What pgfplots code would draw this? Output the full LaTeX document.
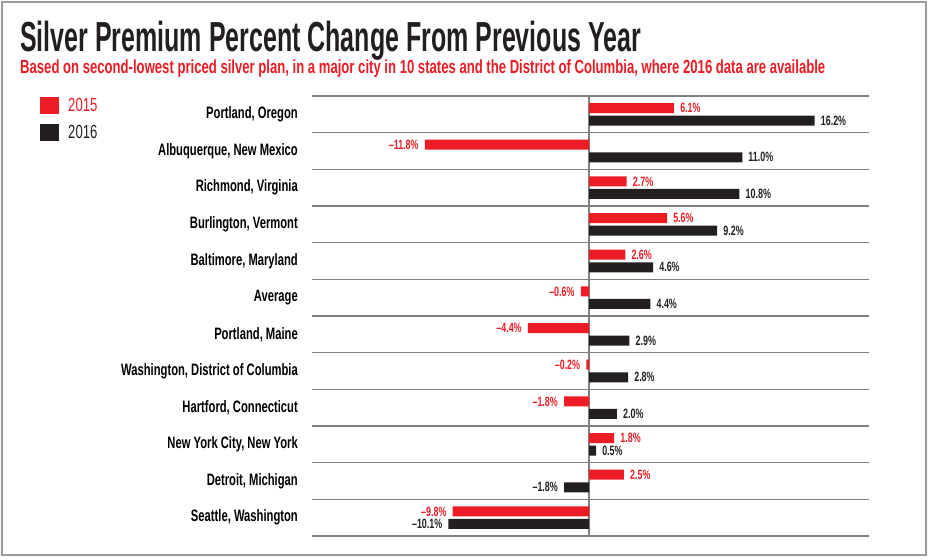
\documentclass[border=0pt]{standalone}
\usepackage{pgfplots}
\pgfplotsset{compat=1.18}
\usepackage{pgfplotstable}
\usepackage{fontspec}
\setmainfont{Liberation Sans}
\newfontfamily\condtitle[FakeStretch=0.595]{Liberation Sans}
\newfontfamily\condsub[FakeStretch=0.69]{Liberation Sans}
\newfontfamily\condlab[FakeStretch=0.68]{Liberation Sans}
\newfontfamily\condval[FakeStretch=0.66]{Liberation Sans}
\definecolor{sred}{HTML}{ED1C24}
\definecolor{sblack}{HTML}{231F20}
\definecolor{sgray}{HTML}{808080}

% y: 11 = top row (Portland, Oregon), 0 = bottom row
\pgfplotstableread{
y   a     b
11  6.1   16.2
10  -11.8 11.0
9   2.7   10.8
8   5.6   9.2
7   2.6   4.6
6   -0.6  4.4
5   -4.4  2.9
4   -0.2  2.8
3   -1.8  2.0
2   1.8   0.5
1   2.5   -1.8
0   -9.8  -10.1
}\premium

\newcommand\lbl[1]{\ifdim#1pt<0pt \textendash\pgfmathparse{abs(#1)}\else\pgfmathparse{#1}\fi
  \pgfmathprintnumber[fixed,fixed zerofill,precision=1,assume math mode=true]{\pgfmathresult}\%}

\begin{document}
\begin{tikzpicture}
\begin{axis}[
  at={(312pt,22pt)}, anchor=south west,
  scale only axis, width=557pt, height=440pt,
  xmin=-19.9, xmax=20.1, ymin=-0.5, ymax=11.5,
  xbar, bar width=10pt,
  axis line style={draw=none},
  xtick=\empty,
  extra x ticks={0}, extra x tick labels={},
  extra x tick style={grid=major, major grid style={sgray, line width=1.4pt}},
  ytick={0,...,11},
  yticklabels={{Seattle, Washington},{Detroit, Michigan},{New York City, New York},
    {Hartford, Connecticut},{Washington, District of Columbia},{Portland, Maine},
    {Average},{Baltimore, Maryland},{Burlington, Vermont},{Richmond, Virginia},
    {Albuquerque, New Mexico},{Portland, Oregon}},
  minor ytick={-0.5,0.5,...,11.5},
  yminorgrids, minor grid style={sgray, line width=1.2pt},
  major tick length=0pt, minor tick length=0pt,
  y tick label style={font=\condlab\bfseries\fontsize{16.5}{16.5}\selectfont, anchor=east, inner sep=0pt, xshift=-14pt},
  visualization depends on={rawx \as \rawx},
  nodes near coords={\lbl{\rawx}},
  nodes near coords align=horizontal,
  nodes near coords style={font=\condval\bfseries\fontsize{13.5}{13.5}\selectfont, inner xsep=6pt, inner ysep=0pt},
  legend style={at={(-0.4883,0.998)}, anchor=north west, draw=none, fill=none,
    inner sep=0pt, row sep=10pt, font=\condsub\fontsize{19}{19}\selectfont,
    nodes={inner sep=0pt}},
  legend cell align=left,
]
\addplot[fill=sred, draw=none, bar shift=6.3pt, every node near coord/.append style={text=sred},
  legend image code/.code={\fill[sred] (0pt,-8.5pt) rectangle (19pt,8.5pt);}]
  table[x=a, y=y]{\premium};
\addlegendentry{\hspace{9pt}\textcolor{sred}{2015}}
\addplot[fill=sblack, draw=none, bar shift=-6.3pt, every node near coord/.append style={text=sblack},
  legend image code/.code={\fill[sblack] (0pt,-8.5pt) rectangle (19pt,8.5pt);}]
  table[x=b, y=y]{\premium};
\addlegendentry{\hspace{9pt}\textcolor{sblack}{2016}}
\end{axis}
\node[anchor=base west, inner sep=0pt, font=\condtitle\bfseries\fontsize{42}{42}\selectfont, text=sblack]
  at (20pt,506pt) {Silver Premium Percent Change From Previous Year};
\node[anchor=base west, inner sep=0pt, font=\condsub\bfseries\fontsize{19}{19}\selectfont, text=sred]
  at (20pt,484pt) {Based on second-lowest priced silver plan, in a major city in 10 states and the District of Columbia, where 2016 data are available};
\draw[sgray!80, line width=1.5pt] (2pt,3pt) rectangle (926pt,556pt);
\pgfresetboundingbox
\path (0,0) rectangle (929pt,558pt);
\end{tikzpicture}
\end{document}
